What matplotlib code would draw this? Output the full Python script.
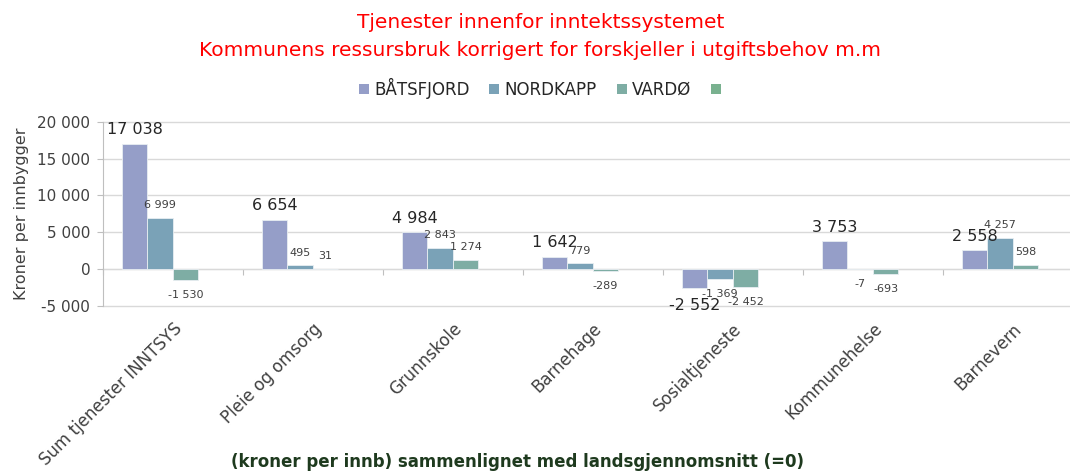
import numpy as np
import matplotlib.pyplot as plt
from matplotlib.patches import Patch

# data (kroner per innbygger vs landsgjennomsnitt)
categories = ["Sum tjenester INNTSYS", "Pleie og omsorg", "Grunnskole", "Barnehage",
              "Sosialtjeneste", "Kommunehelse", "Barnevern"]
series_names = ["BÅTSFJORD", "NORDKAPP", "VARDØ", ""]
batsfjord = [17038, 6654, 4984, 1642, -2552, 3753, 2558]
nordkapp = [6999, 495, 2843, 779, -1369, -7, 4257]
vardo = [-1530, 31, 1274, -289, -2452, -693, 598]
empty = [np.nan] * 7  # fourth series in the legend has no values

colors = ["#959ec8", "#7aa2b7", "#7eada4", "#79b18f"]
label_sizes = [11.5, 8, 8, 8]
label_colors = ["#262626", "#404040", "#404040", "#404040"]
y_ticks = [-5000, 0, 5000, 10000, 15000, 20000]


def fmt(v):
    return f"{v:,.0f}".replace(",", " ")


fig = plt.figure(figsize=(10.7, 4.72), dpi=100)
ax = fig.add_axes([0.096, 0.3517, 0.916, 0.3905])

x = np.arange(len(categories))
n = len(series_names)
w = 1 / (n + 1.5)
all_series = [batsfjord, nordkapp, vardo, empty]

for i, vals in enumerate(all_series):
    pos = x + (i - (n - 1) / 2) * w
    bars = ax.bar(pos, vals, width=w, color=colors[i], edgecolor="#e8eef2",
                  linewidth=0.6, zorder=3)
    for b, v in zip(bars, vals):
        if np.isnan(v):
            continue
        off = 7 if v >= 0 else -7
        ax.annotate(fmt(v), (b.get_x() + b.get_width() / 2, v),
                    xytext=(0, off), textcoords="offset points",
                    ha="center", va="baseline" if v >= 0 else "top",
                    fontsize=label_sizes[i], color=label_colors[i], zorder=5)

ax.set_xlim(-0.5, len(categories) - 0.5)
ax.set_ylim(y_ticks[0], y_ticks[-1])
ax.set_yticks(y_ticks)
ax.set_yticklabels([fmt(t) for t in y_ticks], fontsize=11, color="#404040")
ax.yaxis.grid(True, color="#d9d9d9", lw=1)
for gl in ax.get_ygridlines():
    gl.set_clip_on(False)
ax.set_axisbelow(True)
for s in ["top", "right", "bottom"]:
    ax.spines[s].set_visible(False)
ax.spines["left"].set_color("#bfbfbf")
ax.tick_params(axis="y", direction="out", length=4, color="#bfbfbf", pad=5)

ax.set_xticks(x)
ax.set_xticklabels(categories, rotation=45, ha="right", rotation_mode="anchor",
                   fontsize=12, color="#404040")
ax.tick_params(axis="x", length=0, pad=10)

# zero line with the category separators
zero_frac = (0 - y_ticks[0]) / (y_ticks[-1] - y_ticks[0])
sec = ax.secondary_xaxis(zero_frac)
sec.set_xticks(np.arange(len(categories) + 1) - 0.5)
sec.set_xticklabels([])
sec.tick_params(direction="out", length=4, color="#bfbfbf")
for s in sec.spines.values():
    s.set_color("#bfbfbf")

ax.set_ylabel("Kroner per innbygger", fontsize=11.5, color="#404040", labelpad=6)

fig.text(0.505, 0.953, "Tjenester innenfor inntektssystemet", ha="center", va="center",
         fontsize=14.5, color="#ff0000")
fig.text(0.505, 0.894, "Kommunens ressursbruk korrigert for forskjeller i utgiftsbehov m.m",
         ha="center", va="center", fontsize=14.5, color="#ff0000")

handles = [Patch(facecolor=c, edgecolor="none") for c in colors]
fig.legend(handles, series_names, loc="center", bbox_to_anchor=(0.507, 0.813), ncol=4,
           frameon=False, fontsize=12, handlelength=0.6, handleheight=0.6,
           handletextpad=0.3, columnspacing=1.2, labelcolor="#262626")

fig.text(0.484, 0.021, "(kroner per innb) sammenlignet med landsgjennomsnitt (=0)",
         ha="center", va="center", fontsize=12, fontweight="bold", color="#1e3a1e")

fig.savefig("out.png", dpi=100)
